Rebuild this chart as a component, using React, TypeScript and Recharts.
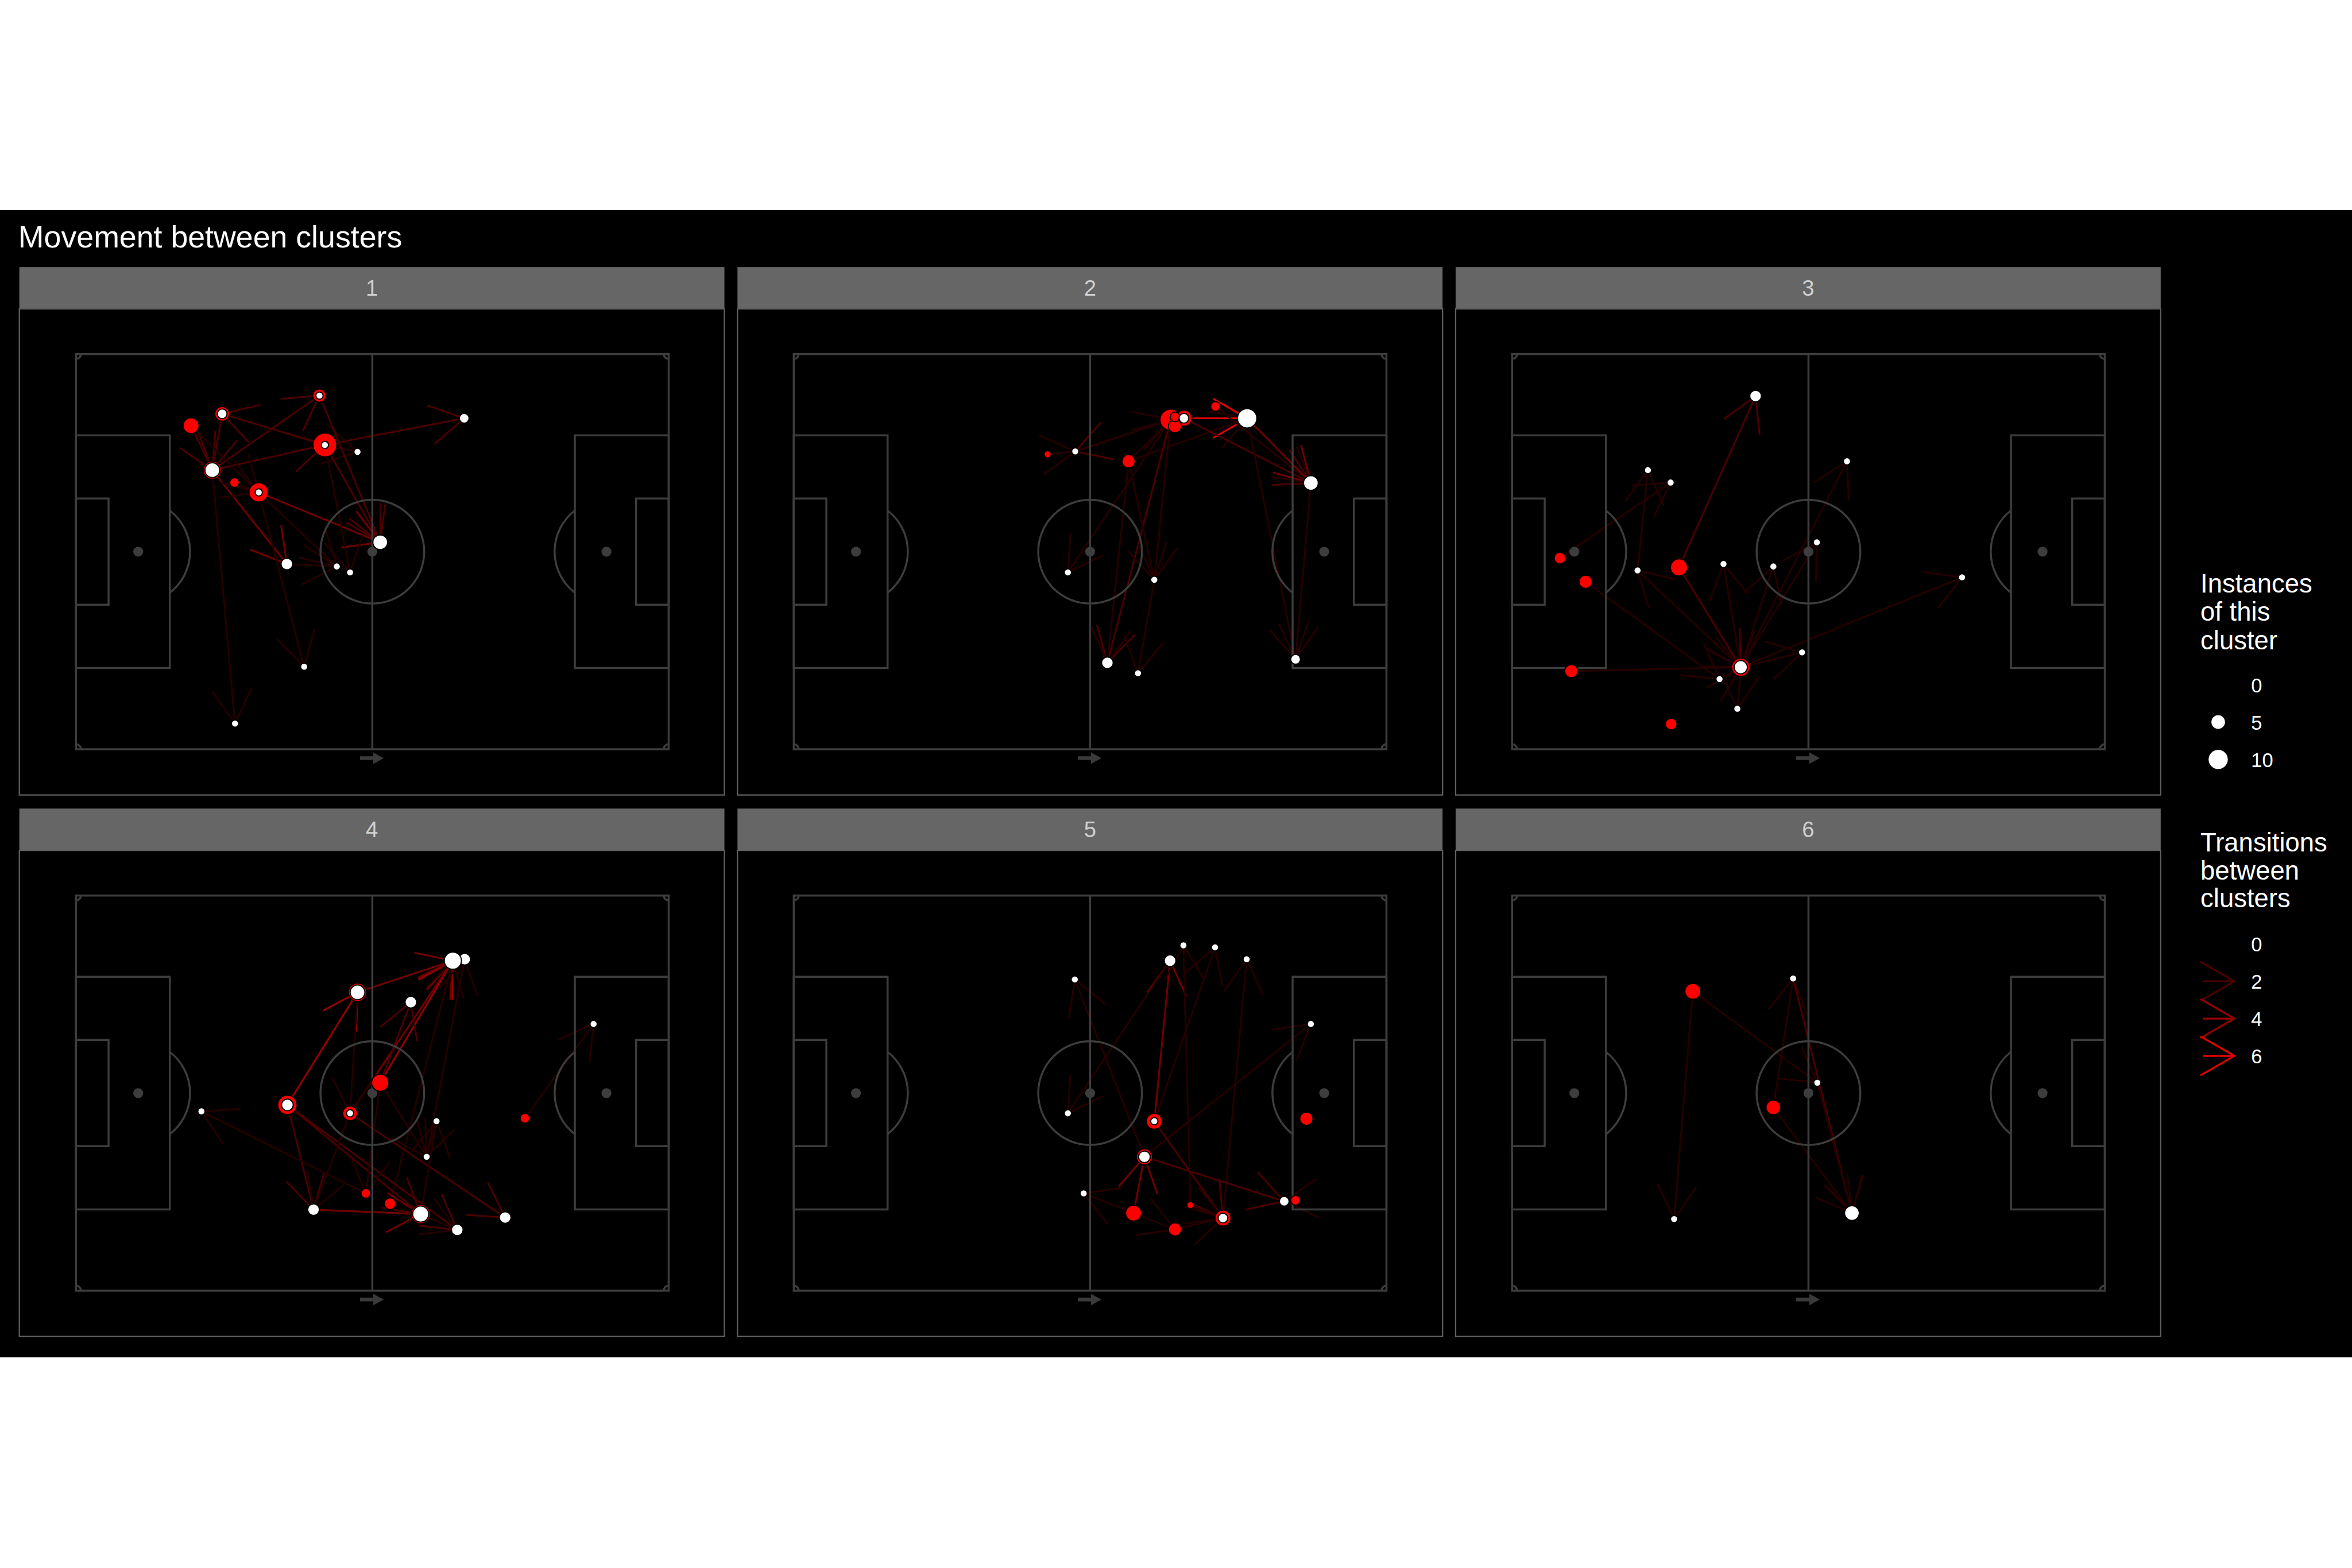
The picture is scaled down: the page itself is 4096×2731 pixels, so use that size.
import React from 'react'
import {
  ScatterChart,
  Scatter,
  XAxis,
  YAxis,
  ZAxis,
  ReferenceLine,
  ReferenceArea,
  ReferenceDot,
} from 'recharts'

const K = 4096 / 4500
const FONT = "'Liberation Sans', Arial, Helvetica, sans-serif"

type Node = { id: string; x: number; y: number; red: number; white: number }
type Edge = [string, string, number]

// pitch coordinates: x 0-120 (left to right), y 0-80 (top to bottom)
const NODES_1: Node[] = [
  { id: 'a', x: 29.6, y: 12.1, red: 5, white: 2 },
  { id: 'b', x: 23.3, y: 14.5, red: 6, white: 0 },
  { id: 'c', x: 49.3, y: 8.4, red: 4, white: 1 },
  { id: 'd', x: 50.4, y: 18.4, red: 14, white: 1 },
  { id: 'e', x: 57.0, y: 19.8, red: 0, white: 1 },
  { id: 'f', x: 78.6, y: 13.0, red: 0, white: 2 },
  { id: 'g', x: 27.6, y: 23.5, red: 8, white: 5 },
  { id: 'h', x: 32.1, y: 26.0, red: 2, white: 0 },
  { id: 'i', x: 37.0, y: 28.0, red: 9, white: 1 },
  { id: 'j', x: 61.6, y: 38.1, red: 0, white: 5 },
  { id: 'k', x: 42.7, y: 42.5, red: 0, white: 3 },
  { id: 'l', x: 52.8, y: 43.0, red: 0, white: 1 },
  { id: 'm', x: 55.5, y: 44.2, red: 0, white: 1 },
  { id: 'n', x: 46.2, y: 63.3, red: 0, white: 1 },
  { id: 'o', x: 32.2, y: 74.8, red: 0, white: 1 },
]
const EDGES_1: Edge[] = [
  ['d', 'a', 2], ['g', 'c', 2], ['g', 'd', 2], ['d', 'f', 2], ['d', 'e', 1],
  ['i', 'j', 3], ['d', 'j', 2], ['c', 'j', 2], ['g', 'k', 3], ['b', 'g', 2],
  ['a', 'g', 2], ['g', 'o', 1], ['i', 'n', 1], ['i', 'l', 1], ['d', 'm', 1],
  ['k', 'l', 1], ['h', 'i', 1], ['b', 'i', 1],
]

const NODES_2: Node[] = [
  { id: 'a', x: 51.4, y: 20.3, red: 1, white: 0 },
  { id: 'b', x: 57.0, y: 19.7, red: 0, white: 1 },
  { id: 'c', x: 67.8, y: 21.7, red: 4, white: 0 },
  { id: 'd', x: 76.3, y: 13.3, red: 11, white: 0 },
  { id: 'g', x: 79.0, y: 13.0, red: 6, white: 2 },
  { id: 'e', x: 77.2, y: 14.6, red: 4, white: 0 },
  { id: 'f', x: 77.2, y: 12.7, red: 2, white: 0 },
  { id: 'h', x: 85.4, y: 10.6, red: 2, white: 0 },
  { id: 'i', x: 91.8, y: 13.0, red: 0, white: 9 },
  { id: 'j', x: 104.7, y: 26.1, red: 0, white: 5 },
  { id: 'k', x: 55.5, y: 44.2, red: 0, white: 1 },
  { id: 'l', x: 73.0, y: 45.7, red: 0, white: 1 },
  { id: 'm', x: 63.5, y: 62.5, red: 0, white: 3 },
  { id: 'n', x: 69.7, y: 64.6, red: 0, white: 1 },
  { id: 'o', x: 101.6, y: 61.8, red: 0, white: 2 },
]
const EDGES_2: Edge[] = [
  ['g', 'i', 6], ['c', 'i', 1], ['i', 'j', 3], ['g', 'j', 2], ['h', 'j', 1],
  ['i', 'o', 1], ['j', 'o', 1], ['d', 'b', 2], ['a', 'b', 1], ['b', 'd', 1],
  ['c', 'd', 1], ['d', 'm', 2], ['d', 'l', 1], ['c', 'l', 1], ['d', 'k', 1],
  ['c', 'm', 1], ['l', 'n', 1],
]

const NODES_3: Node[] = [
  { id: 'a', x: 49.3, y: 8.5, red: 0, white: 3 },
  { id: 'b', x: 27.5, y: 23.5, red: 0, white: 1 },
  { id: 'c', x: 32.1, y: 26.0, red: 0, white: 1 },
  { id: 'd', x: 67.8, y: 21.7, red: 0, white: 1 },
  { id: 'e', x: 9.7, y: 41.3, red: 3, white: 0 },
  { id: 'f', x: 14.9, y: 46.1, red: 4, white: 0 },
  { id: 'g', x: 25.4, y: 43.8, red: 0, white: 1 },
  { id: 'h', x: 33.8, y: 43.2, red: 7, white: 0 },
  { id: 'i', x: 42.8, y: 42.5, red: 0, white: 1 },
  { id: 'j', x: 52.9, y: 43.0, red: 0, white: 1 },
  { id: 'k', x: 61.7, y: 38.1, red: 0, white: 1 },
  { id: 'l', x: 12.0, y: 64.2, red: 4, white: 0 },
  { id: 'm', x: 46.3, y: 63.4, red: 8, white: 4 },
  { id: 'n', x: 42.0, y: 65.8, red: 0, white: 1 },
  { id: 'o', x: 45.6, y: 71.8, red: 0, white: 1 },
  { id: 'p', x: 58.7, y: 60.4, red: 0, white: 1 },
  { id: 'q', x: 32.2, y: 74.9, red: 3, white: 0 },
  { id: 'r', x: 91.1, y: 45.2, red: 0, white: 1 },
]
const EDGES_3: Edge[] = [
  ['h', 'a', 2], ['h', 'm', 2], ['l', 'm', 1], ['f', 'n', 1], ['e', 'c', 1],
  ['g', 'b', 1], ['m', 'g', 1], ['m', 'i', 1], ['m', 'j', 1], ['m', 'k', 1],
  ['m', 'd', 1], ['m', 'r', 1], ['m', 'p', 1], ['m', 'o', 1], ['n', 'm', 1],
  ['i', 'm', 1],
]

const NODES_4: Node[] = [
  { id: 'b', x: 78.7, y: 12.9, red: 0, white: 3 },
  { id: 'a', x: 76.3, y: 13.2, red: 0, white: 7 },
  { id: 'c', x: 57.0, y: 19.6, red: 8, white: 5 },
  { id: 'd', x: 67.8, y: 21.6, red: 0, white: 3 },
  { id: 'e', x: 61.6, y: 37.9, red: 7, white: 0 },
  { id: 'f', x: 42.8, y: 42.4, red: 9, white: 3 },
  { id: 'g', x: 55.5, y: 44.1, red: 5, white: 1 },
  { id: 'h', x: 25.4, y: 43.7, red: 0, white: 1 },
  { id: 'i', x: 73.0, y: 45.7, red: 0, white: 1 },
  { id: 'j', x: 71.0, y: 52.9, red: 0, white: 1 },
  { id: 'k', x: 58.7, y: 60.3, red: 2, white: 0 },
  { id: 'l', x: 63.6, y: 62.4, red: 3, white: 0 },
  { id: 'm', x: 48.1, y: 63.6, red: 0, white: 3 },
  { id: 'n', x: 69.8, y: 64.5, red: 9, white: 6 },
  { id: 'o', x: 77.2, y: 67.7, red: 0, white: 3 },
  { id: 'p', x: 86.9, y: 65.2, red: 0, white: 3 },
  { id: 'q', x: 90.9, y: 45.1, red: 2, white: 0 },
  { id: 'r', x: 104.8, y: 26.0, red: 0, white: 1 },
]
const EDGES_4: Edge[] = [
  ['f', 'c', 4], ['c', 'a', 3], ['e', 'a', 4], ['g', 'a', 3], ['e', 'd', 2],
  ['l', 'a', 1], ['c', 'g', 1], ['f', 'm', 2], ['f', 'n', 2], ['f', 'o', 2],
  ['g', 'p', 2], ['k', 'h', 1], ['m', 'n', 3], ['g', 'm', 1], ['e', 'j', 1],
  ['i', 'j', 1], ['n', 'i', 1], ['q', 'r', 1], ['n', 'o', 1], ['j', 'b', 1],
  ['e', 'k', 1],
]

const NODES_5: Node[] = [
  { id: 'a', x: 76.2, y: 13.2, red: 0, white: 3 },
  { id: 'b', x: 78.9, y: 10.1, red: 0, white: 1 },
  { id: 'c', x: 85.3, y: 10.5, red: 0, white: 1 },
  { id: 'd', x: 91.7, y: 12.9, red: 0, white: 1 },
  { id: 'e', x: 56.9, y: 17.0, red: 0, white: 1 },
  { id: 'f', x: 104.7, y: 26.0, red: 0, white: 1 },
  { id: 'g', x: 55.5, y: 44.1, red: 0, white: 1 },
  { id: 'h', x: 73.0, y: 45.7, red: 6, white: 1 },
  { id: 'i', x: 71.0, y: 52.9, red: 6, white: 3 },
  { id: 'j', x: 103.8, y: 45.2, red: 4, white: 0 },
  { id: 'k', x: 58.7, y: 60.3, red: 0, white: 1 },
  { id: 'l', x: 68.8, y: 64.3, red: 6, white: 0 },
  { id: 'm', x: 80.3, y: 62.7, red: 1, white: 0 },
  { id: 'n', x: 86.9, y: 65.3, red: 6, white: 2 },
  { id: 'o', x: 99.3, y: 61.9, red: 0, white: 2 },
  { id: 'p', x: 101.6, y: 61.7, red: 2, white: 0 },
  { id: 'q', x: 77.2, y: 67.6, red: 4, white: 0 },
]
const EDGES_5: Edge[] = [
  ['h', 'a', 3], ['a', 'g', 1], ['i', 'e', 1], ['h', 'c', 1], ['m', 'b', 1],
  ['n', 'd', 1], ['i', 'f', 1], ['i', 'o', 2], ['h', 'n', 2], ['l', 'i', 3],
  ['l', 'k', 1], ['q', 'n', 1], ['m', 'n', 1], ['p', 'o', 1], ['l', 'q', 1],
]

const NODES_6: Node[] = [
  { id: 'a', x: 36.6, y: 19.4, red: 6, white: 0 },
  { id: 'b', x: 56.9, y: 16.8, red: 0, white: 1 },
  { id: 'c', x: 61.8, y: 37.9, red: 0, white: 1 },
  { id: 'd', x: 52.9, y: 42.9, red: 5, white: 0 },
  { id: 'e', x: 32.8, y: 65.5, red: 0, white: 1 },
  { id: 'f', x: 68.8, y: 64.3, red: 0, white: 5 },
]
const EDGES_6: Edge[] = [
  ['a', 'e', 1], ['a', 'c', 1], ['d', 'b', 1], ['b', 'f', 2], ['d', 'f', 1],
  ['c', 'f', 1],
]

const PANEL_LABELS = ['1', '2', '3', '4', '5', '6']
const PANEL_NODES = [NODES_1, NODES_2, NODES_3, NODES_4, NODES_5, NODES_6]
const PANEL_EDGES = [EDGES_1, EDGES_2, EDGES_3, EDGES_4, EDGES_5, EDGES_6]

const SIZE_BREAKS = [0, 5, 10]
const TRANSITION_BREAKS = [0, 2, 4, 6]

// layout in reference pixels (4500 x 3000)
const COL_X = [37, 1411, 2785]
const ROW_Y = [591, 1627]
const PANEL_W = 1349
const PANEL_H = 930
const STRIP_H = 80

const PITCH = '#3d3d3d'
const PITCH_W = 3.8 * K
const EDGE_W = 3.4 * K
const HEAD = 75 * K
const AREA_PER_UNIT = (Math.PI / 4) * Math.pow(11.63 * K, 2)

function edgeColor(n: number) {
  return `rgb(${Math.min(255, Math.round(38 * n))},0,0)`
}

function arrowShape(color: string) {
  return (p: any) => {
    const { x1, y1, x2, y2 } = p
    if (x1 == null || x2 == null) return <g />
    const a = Math.atan2(y2 - y1, x2 - x1)
    const b1 = a + Math.PI - Math.PI / 6
    const b2 = a + Math.PI + Math.PI / 6
    const pts = `${x2 + HEAD * Math.cos(b1)},${y2 + HEAD * Math.sin(b1)} ${x2},${y2} ${x2 + HEAD * Math.cos(b2)},${y2 + HEAD * Math.sin(b2)}`
    return (
      <g>
        <line x1={x1} y1={y1} x2={x2} y2={y2} stroke={color} strokeWidth={EDGE_W} />
        <polyline points={pts} fill="none" stroke={color} strokeWidth={EDGE_W} />
      </g>
    )
  }
}

const circleShape = (p: any) => {
  const r = Math.hypot(p.x2 - p.x1, p.y2 - p.y1)
  return <circle cx={p.x1} cy={p.y1} r={r} fill="none" stroke={PITCH} strokeWidth={PITCH_W} />
}

function arcShape(deg: number) {
  return (p: any) => {
    const { x1, y1, x2, y2 } = p
    const dx = x2 - x1
    const dy = y2 - y1
    const r = Math.hypot(dx, dy)
    const t = (deg * Math.PI) / 180
    const ex = x1 + dx * Math.cos(t) - dy * Math.sin(t)
    const ey = y1 + dx * Math.sin(t) + dy * Math.cos(t)
    return (
      <path
        d={`M${x2},${y2} A${r},${r} 0 0 ${deg > 0 ? 1 : 0} ${ex},${ey}`}
        fill="none"
        stroke={PITCH}
        strokeWidth={PITCH_W}
      />
    )
  }
}

const plainLine = (p: any) => (
  <line x1={p.x1} y1={p.y1} x2={p.x2} y2={p.y2} stroke={PITCH} strokeWidth={PITCH_W} />
)

const playArrow = (p: any) => {
  const { x1, y1, x2, y2 } = p
  const h = 20 * K
  return (
    <g>
      <line x1={x1} y1={y1} x2={x2 - h} y2={y2} stroke="#3a3a3a" strokeWidth={7 * K} />
      <polygon points={`${x2 - h},${y2 - 11 * K} ${x2},${y2} ${x2 - h},${y2 + 11 * K}`} fill="#3a3a3a" />
    </g>
  )
}

function dotShape(fill: string) {
  return (p: any) => {
    const r = p.width ? p.width / 2 : Math.sqrt((p.size || 0) / Math.PI)
    if (!(r > 0.3)) return <g />
    return <circle cx={p.cx} cy={p.cy} r={r + 1} fill={fill} stroke="#000" strokeWidth={2} />
  }
}

function PitchPanel({ nodes, edges }: { nodes: Node[]; edges: Edge[] }) {
  const byId: Record<string, Node> = {}
  nodes.forEach((n) => (byId[n.id] = n))
  const reds = nodes.filter((n) => n.red > 0).map((n) => ({ x: n.x, y: n.y, v: n.red }))
  const whites = nodes.filter((n) => n.white > 0).map((n) => ({ x: n.x, y: n.y, v: n.white }))

  const box = (x1: number, x2: number, y1: number, y2: number, k: string) => (
    <ReferenceArea key={k} x1={x1} x2={x2} y1={y1} y2={y2} fill="none" fillOpacity={0} stroke={PITCH} strokeWidth={PITCH_W} zIndex={350} />
  )

  return (
    <ScatterChart width={PANEL_W * K} height={PANEL_H * K} margin={{ top: 0, right: 0, bottom: 0, left: 0 }}>
      <XAxis type="number" dataKey="x" domain={[-11.43, 131.32]} hide allowDataOverflow />
      <YAxis type="number" dataKey="y" domain={[-9.15, 89.25]} reversed hide allowDataOverflow />
      <ZAxis type="number" dataKey="v" domain={[0, 20]} range={[0, 20 * AREA_PER_UNIT]} />
      {edges.map(([from, to, n], i) => (
        <ReferenceLine
          key={'e' + i}
          segment={[{ x: byId[from].x, y: byId[from].y }, { x: byId[to].x, y: byId[to].y }]}
          shape={arrowShape(edgeColor(n))}
          ifOverflow="visible"
          zIndex={300}
        />
      ))}
      {box(0, 120, 0, 80, 'outer')}
      {box(0, 19, 16.45, 63.55, 'pl')}
      {box(101, 120, 16.45, 63.55, 'pr')}
      {box(0, 6.6, 29.25, 50.75, 'sl')}
      {box(113.4, 120, 29.25, 50.75, 'sr')}
      <ReferenceLine segment={[{ x: 60, y: 0 }, { x: 60, y: 80 }]} shape={plainLine} zIndex={350} />
      <ReferenceLine segment={[{ x: 60, y: 40 }, { x: 70.5, y: 40 }]} shape={circleShape} zIndex={350} />
      <ReferenceLine segment={[{ x: 12.6, y: 40 }, { x: 19, y: 31.68 }]} shape={arcShape(104.8)} zIndex={350} />
      <ReferenceLine segment={[{ x: 107.4, y: 40 }, { x: 101, y: 31.68 }]} shape={arcShape(-104.8)} zIndex={350} />
      <ReferenceLine segment={[{ x: 0, y: 0 }, { x: 1, y: 0 }]} shape={arcShape(90)} zIndex={350} />
      <ReferenceLine segment={[{ x: 120, y: 0 }, { x: 120, y: 1 }]} shape={arcShape(90)} zIndex={350} />
      <ReferenceLine segment={[{ x: 120, y: 80 }, { x: 119, y: 80 }]} shape={arcShape(90)} zIndex={350} />
      <ReferenceLine segment={[{ x: 0, y: 80 }, { x: 0, y: 79 }]} shape={arcShape(90)} zIndex={350} />
      <ReferenceLine segment={[{ x: 57.5, y: 81.8 }, { x: 62.3, y: 81.8 }]} shape={playArrow} ifOverflow="visible" zIndex={350} />
      <ReferenceDot x={12.6} y={40} r={9.5 * K} fill={PITCH} stroke="none" zIndex={350} />
      <ReferenceDot x={60} y={40} r={9.5 * K} fill={PITCH} stroke="none" zIndex={350} />
      <ReferenceDot x={107.4} y={40} r={9.5 * K} fill={PITCH} stroke="none" zIndex={350} />
      <Scatter data={reds} shape={dotShape('#ff0000')} isAnimationActive={false} />
      <Scatter data={whites} shape={dotShape('#ffffff')} isAnimationActive={false} />
    </ScatterChart>
  )
}

export default function App() {
  return (
    <div
      style={{
        position: 'absolute',
        left: 0,
        top: 0,
        width: 4096,
        height: 2731,
        background: '#ffffff',
        overflow: 'hidden',
        fontFamily: FONT,
      }}
    >
      <svg
        width={4096}
        height={2731}
        viewBox="0 0 4500 3000"
        preserveAspectRatio="none"
        style={{ position: 'absolute', left: 0, top: 0 }}
        fontFamily={FONT}
      >
        <rect x={0} y={402} width={4500} height={2195} fill="#000000" />
        <text x={35} y={474} fontSize={59} fill="#ffffff">
          Movement between clusters
        </text>
        {PANEL_LABELS.map((label, i) => {
          const x = COL_X[i % 3]
          const y = ROW_Y[Math.floor(i / 3)]
          return (
            <g key={label}>
              <rect x={x} y={y - STRIP_H} width={PANEL_W} height={STRIP_H} fill="#666666" />
              <rect x={x} y={y} width={PANEL_W} height={PANEL_H} fill="none" stroke="#5f5f5f" strokeWidth={2.5} />
              <text x={x + PANEL_W / 2} y={y - STRIP_H + 55} textAnchor="middle" fontSize={42} fill="#d0d0d0">
                {label}
              </text>
            </g>
          )
        })}

        <text x={4210} y={1134} fontSize={50} fill="#ffffff">Instances</text>
        <text x={4210} y={1188} fontSize={50} fill="#ffffff">of this</text>
        <text x={4210} y={1242} fontSize={50} fill="#ffffff">cluster</text>
        {SIZE_BREAKS.map((v, i) => (
          <g key={'s' + v}>
            {v > 0 && <circle cx={4244} cy={1310 + i * 71.5} r={5.815 * Math.sqrt(v)} fill="#ffffff" />}
            <text x={4307} y={1325 + i * 71.5} fontSize={38} fill="#ffffff">{v}</text>
          </g>
        ))}

        <text x={4210} y={1629} fontSize={50} fill="#ffffff">Transitions</text>
        <text x={4210} y={1683} fontSize={50} fill="#ffffff">between</text>
        <text x={4210} y={1736} fontSize={50} fill="#ffffff">clusters</text>
        {TRANSITION_BREAKS.map((v, i) => {
          const cy = 1806 + i * 71.4
          const c = edgeColor(v)
          return (
            <g key={'t' + v}>
              <line x1={4215} y1={cy} x2={4275} y2={cy} stroke={c} strokeWidth={3.5} />
              <polyline points={`${4210},${cy - 37.5} ${4275},${cy} ${4210},${cy + 37.5}`} fill="none" stroke={c} strokeWidth={3.5} />
              <text x={4307} y={1820 + i * 71.4} fontSize={38} fill="#ffffff">{v}</text>
            </g>
          )
        })}
      </svg>

      {PANEL_LABELS.map((label, i) => (
        <div
          key={'p' + label}
          style={{
            position: 'absolute',
            left: COL_X[i % 3] * K,
            top: ROW_Y[Math.floor(i / 3)] * K,
            width: PANEL_W * K,
            height: PANEL_H * K,
          }}
        >
          <PitchPanel nodes={PANEL_NODES[i]} edges={PANEL_EDGES[i]} />
        </div>
      ))}
    </div>
  )
}
